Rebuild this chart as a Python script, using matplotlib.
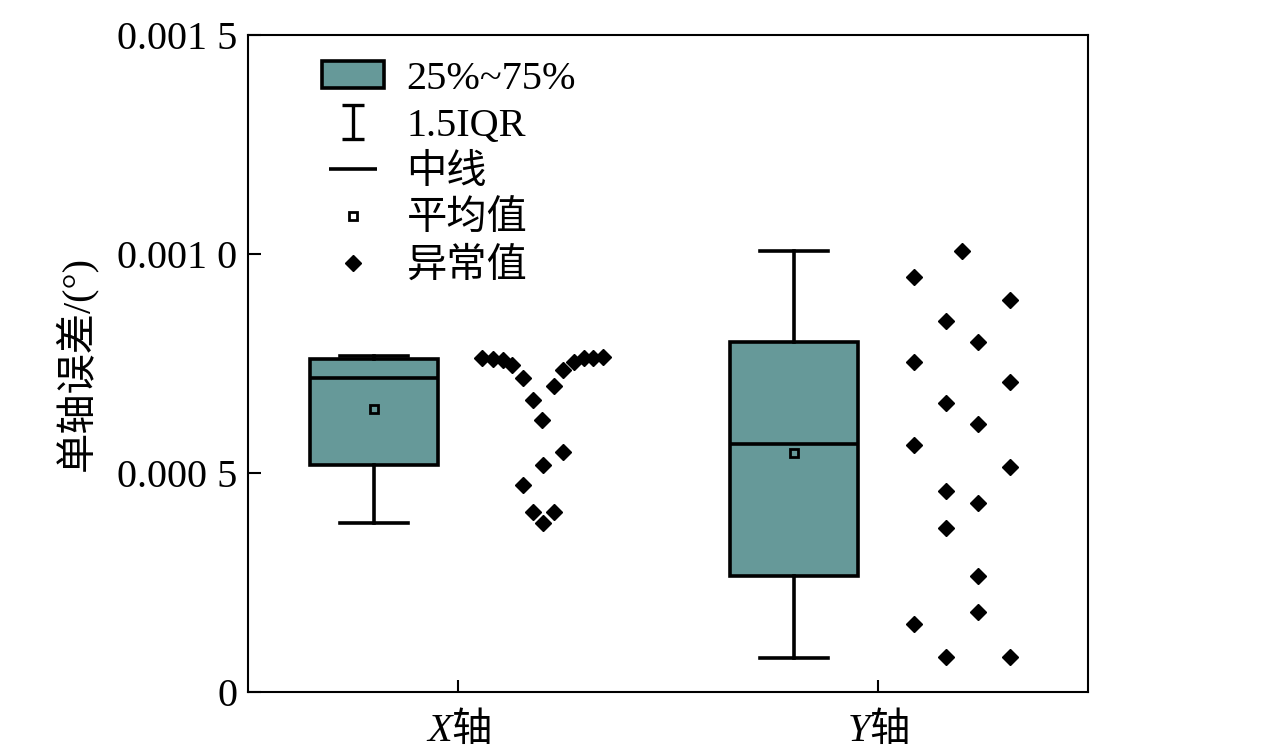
import numpy
import matplotlib
matplotlib.use("Agg")
import matplotlib.pyplot as plt
from matplotlib.patches import Patch
from matplotlib.lines import Line2D
from matplotlib.path import Path

plt.rcParams['font.family'] = ['Liberation Serif', 'Noto Sans CJK SC']
plt.rcParams['mathtext.fontset'] = 'custom'
plt.rcParams['mathtext.rm'] = 'Noto Sans CJK SC'
plt.rcParams['mathtext.it'] = 'Liberation Serif:italic'

# ---- data (units: degree) ----
groups = ['$\\mathit{X}\\mathrm{轴}$', '$\\mathit{Y}\\mathrm{轴}$']
q1 = [0.000518, 0.000264]
median = [0.000717, 0.000565]
q3 = [0.000760, 0.000798]
whis_lo = [0.000385, 0.000077]
whis_hi = [0.000767, 0.001006]
mean = [0.000645, 0.000545]

# scattered points for each axis (jitter position, value)
x_pts_pos = [1.113, 1.165, 1.213, 1.256, 1.308, 1.356, 1.399, 1.456, 1.499,
             1.551, 1.599, 1.642, 1.690,
             1.499, 1.404, 1.308, 1.356, 1.456, 1.404]
x_pts_val = [0.000762, 0.000759, 0.000757, 0.000746, 0.000716, 0.000666, 0.000620,
             0.000698, 0.000734, 0.000753, 0.000762, 0.000762, 0.000764,
             0.000547, 0.000518, 0.000472, 0.000410, 0.000410, 0.000385]

y_pts_pos = [3.401, 3.172, 3.630, 3.325, 3.477, 3.172, 3.630, 3.325, 3.477, 3.172,
             3.630, 3.325, 3.477, 3.325, 3.477, 3.477, 3.172, 3.325, 3.630]
y_pts_val = [0.001006, 0.000946, 0.000894, 0.000847, 0.000798, 0.000753, 0.000707,
             0.000660, 0.000611, 0.000562, 0.000514, 0.000457, 0.000431, 0.000374,
             0.000264, 0.000183, 0.000154, 0.000079, 0.000079]

box_color = '#669999'
fs = 29

fig = plt.figure(figsize=(12.76, 7.54), dpi=100)
ax = fig.add_axes([0.1947, 0.0826, 0.6577, 0.8716])

stats = []
for i in range(len(groups)):
    stats.append(dict(med=median[i], q1=q1[i], q3=q3[i], whislo=whis_lo[i],
                      whishi=whis_hi[i], mean=mean[i], fliers=[]))

ax.bxp(stats, positions=[0.6, 2.6], widths=0.61, capwidths=0.324,
       patch_artist=True, showmeans=True, showfliers=False,
       boxprops=dict(facecolor=box_color, edgecolor='black', linewidth=2.6),
       whiskerprops=dict(color='black', linewidth=2.6),
       capprops=dict(color='black', linewidth=2.6),
       medianprops=dict(color='black', linewidth=2.6),
       meanprops=dict(marker='s', markerfacecolor='none', markeredgecolor='black',
                      markersize=6, markeredgewidth=2))

ax.plot(x_pts_pos, x_pts_val, 'D', color='black', ms=8.5, ls='none')
ax.plot(y_pts_pos, y_pts_val, 'D', color='black', ms=8.5, ls='none')

ax.set_xlim(0, 4)
ax.set_ylim(0, 0.0015)
ax.set_xticks([1, 3])
ax.set_xticklabels(groups)
ax.set_yticks([0, 0.0005, 0.0010, 0.0015])
ax.set_yticklabels(['0', '0.000 5', '0.001 0', '0.001 5'])
ax.tick_params(direction='in', length=9, width=1.5, labelsize=fs, pad=8)
ax.tick_params(axis='x', pad=13)
for s in ax.spines.values():
    s.set_linewidth(1.5)
ax.set_ylabel('单轴误差/(°)', fontsize=fs, labelpad=14)

# legend handles
i_path = Path([(-0.66, -1), (0.66, -1), (0, -1), (0, 1), (-0.66, 1), (0.66, 1)],
              [Path.MOVETO, Path.LINETO, Path.MOVETO, Path.LINETO, Path.MOVETO, Path.LINETO])
handles = [
    Patch(facecolor=box_color, edgecolor='black', linewidth=2.6),
    Line2D([], [], marker=i_path, ls='none', color='black', ms=24, mew=2.4),
    Line2D([], [], marker='_', ls='none', color='black', ms=34, mew=2.6),
    Line2D([], [], marker='s', ls='none', markerfacecolor='none', markeredgecolor='black',
           ms=6, mew=2),
    Line2D([], [], marker='D', ls='none', color='black', ms=8.5),
]
labels = ['25%~75%', '1.5IQR', '中线', '平均值', '异常值']
ax.legend(handles, labels, loc='upper left', bbox_to_anchor=(0.068, 0.985),
          frameon=False, fontsize=fs, handlelength=1.56, handleheight=0.67,
          handletextpad=0.55, labelspacing=0.25, borderaxespad=0)

fig.savefig('out.png', dpi=100)
